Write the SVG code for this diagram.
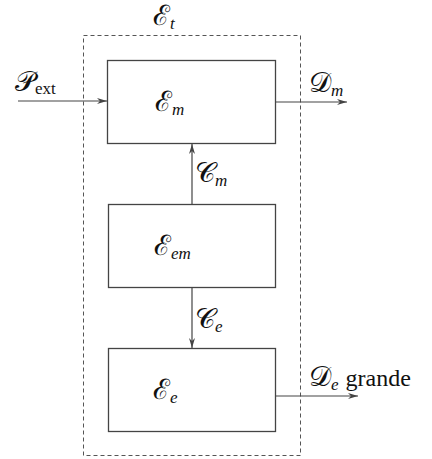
<svg xmlns="http://www.w3.org/2000/svg" width="432" height="459" viewBox="0 0 432 459">
<style>
.box{fill:none;stroke:#444;stroke-width:1.3}
.dash{fill:none;stroke:#555;stroke-width:1;stroke-dasharray:4 3}
.ln{fill:none;stroke:#444;stroke-width:1.2}
.t{font-family:'DejaVu Serif',serif;font-size:28px;fill:#111}
.s{font-family:'Liberation Serif','DejaVu Serif',serif;font-style:italic;font-size:17px}
.r{font-family:'Liberation Serif','DejaVu Serif',serif;font-style:normal;font-size:17px}
.g{font-family:'Liberation Serif','DejaVu Serif',serif;font-style:normal;font-size:24px}
</style>
<defs>
<marker id="ah" viewBox="0 0 10 10" refX="10" refY="5" markerWidth="10" markerHeight="10" markerUnits="userSpaceOnUse" orient="auto">
<path d="M0,2 L10,5 L0,8 L3,5 Z" fill="#444"/>
</marker>
</defs>
<rect class="dash" x="83.5" y="35.5" width="217" height="420"/>
<text class="t" x="153" y="25">ℰ<tspan class="s" dy="4">t</tspan></text>
<g id="connectors">
<line class="ln" x1="18" y1="101" x2="107" y2="101" marker-end="url(#ah)"/>
<line class="ln" x1="276" y1="102" x2="347" y2="102" marker-end="url(#ah)"/>
<line class="ln" x1="192" y1="204" x2="192" y2="144" marker-end="url(#ah)"/>
<line class="ln" x1="192" y1="287" x2="192" y2="348" marker-end="url(#ah)"/>
<line class="ln" x1="276" y1="396" x2="358" y2="396" marker-end="url(#ah)"/>
<text class="t" x="15" y="91">𝒫<tspan class="r" dy="3">ext</tspan></text>
<text class="t" x="309" y="92">𝒟<tspan class="s" dy="4">m</tspan></text>
<text class="t" x="195" y="182">𝒞<tspan class="s" dy="4">m</tspan></text>
<text class="t" x="195" y="328">𝒞<tspan class="s" dy="4">e</tspan></text>
<text class="t" x="309" y="386">𝒟<tspan class="s" dy="4">e</tspan><tspan class="g" dx="7" dy="-4">grande</tspan></text>
</g>
<g id="Em">
<rect class="box" x="107.5" y="60.5" width="168" height="83"/>
<text class="t" x="155" y="111">ℰ<tspan class="s" dy="4">m</tspan></text>
</g>
<g id="Eem">
<rect class="box" x="108.5" y="204.5" width="167" height="83"/>
<text class="t" x="154" y="255">ℰ<tspan class="s" dy="4">em</tspan></text>
</g>
<g id="Ee">
<rect class="box" x="108.5" y="348.5" width="167" height="83"/>
<text class="t" x="153" y="399">ℰ<tspan class="s" dy="4">e</tspan></text>
</g>
</svg>
